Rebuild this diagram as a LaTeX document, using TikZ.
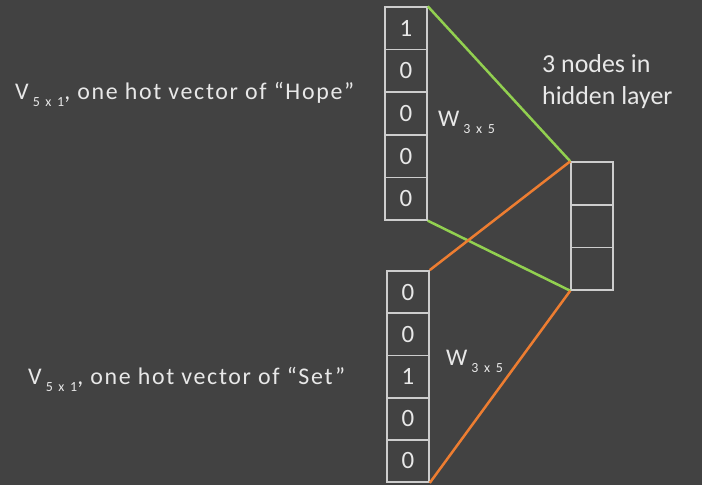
\documentclass[tikz,border=0pt]{standalone}
\usepackage{fontspec}
\setmainfont{Carlito}
\newfontfamily\lblfont[LetterSpace=7]{Carlito}
\newfontfamily\subfont[LetterSpace=18]{Carlito}
\definecolor{bg}{RGB}{66,66,66}
\definecolor{boxgray}{RGB}{205,205,205}
\definecolor{txt}{RGB}{232,232,232}
\definecolor{wgreen}{RGB}{146,208,80}
\definecolor{worange}{RGB}{237,125,49}
\newcommand{\subtxt}[1]{\raisebox{-7bp}{\subfont\fontsize{14}{14}\selectfont #1}}
\begin{document}
\begin{tikzpicture}[x=1bp,y=-1bp,
  cell/.style={draw=boxgray, line width=1.5bp, minimum width=42bp,
    minimum height=42.5bp, inner sep=0pt, text=txt,
    font=\fontsize{25}{25}\selectfont},
  lbl/.style={text=txt, inner sep=0pt, anchor=base west,
    font=\lblfont\fontsize{24}{24}\selectfont},
  edgegreen/.style={draw=wgreen, line width=2.5bp},
  edgeorange/.style={draw=worange, line width=2.5bp}]
\fill[bg] (0,0) rectangle (702,485);
\useasboundingbox (0,0) rectangle (702,485);

% input vector for "Hope"
\foreach \v [count=\i] in {1,0,0,0,0}
  \node[cell] (t\i) at (406,{7+42.6*(\i-0.5)}) {\v};
% input vector for "Set"
\foreach \v [count=\i] in {0,0,1,0,0}
  \node[cell] (b\i) at (408,{271+42.2*(\i-0.5)}) {\v};
% hidden layer
\foreach \i in {1,2,3}
  \node[cell] (h\i) at (592,{162+42.7*(\i-0.5)}) {};

% weight connections
\draw[edgegreen] (t1.north east) -- (h1.north west);
\draw[edgegreen] (t5.south east) -- (h3.south west);
\draw[edgeorange] (b1.north east) -- (h1.north west);
\draw[edgeorange] (b5.south east) -- (h3.south west);

% labels
\node[lbl] (vhope) at (15,100) {V\,\subtxt{5 x 1}, one hot vector of “Hope”};
\node[lbl] (vset) at (28,384) {V\,\subtxt{5 x 1}, one hot vector of “Set”};
\node[lbl] (wtop) at (438,127) {W\,\subtxt{3 x 5}};
\node[lbl] (wbot) at (446,365) {W\,\subtxt{3 x 5}};
\node[lbl, font=\fontsize{26}{26}\selectfont] (hid1) at (542,73) {3 nodes in};
\node[lbl, font=\fontsize{26}{26}\selectfont] (hid2) at (542,105) {hidden layer};
\end{tikzpicture}
\end{document}
